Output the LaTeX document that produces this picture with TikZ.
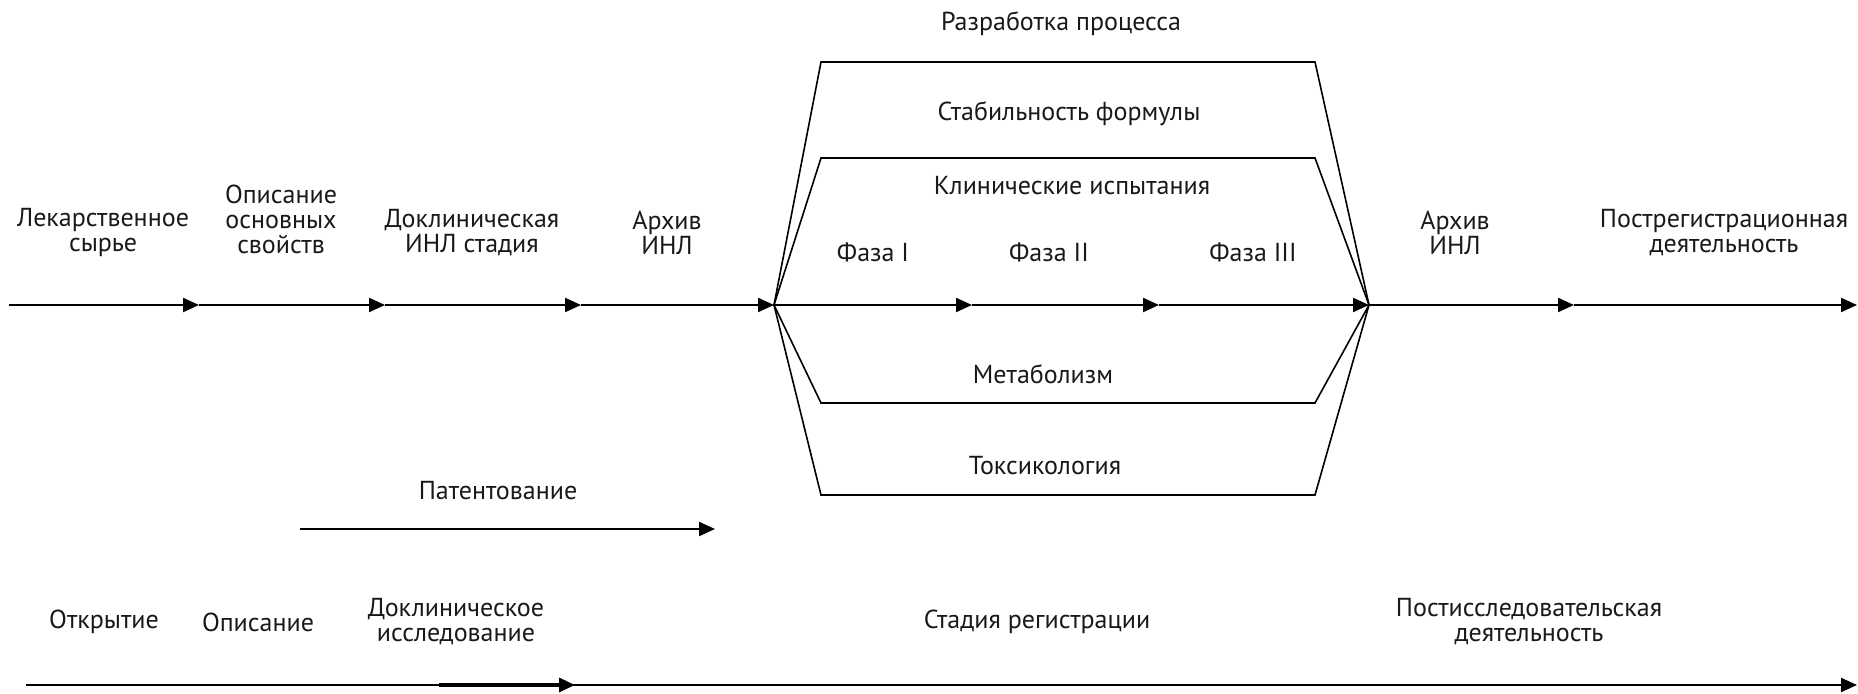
\documentclass[tikz,border=0pt]{standalone}
\usepackage{fontspec}
\setmainfont{PT Sans}
\usetikzlibrary{arrows.meta}
\tikzset{
  lbl/.style={font=\fontsize{13}{12.5}\selectfont, align=center, inner sep=0pt, text=black!90},
  arr/.style={line width=1.1pt, -{Triangle[length=8pt,width=7pt]}},
  trap/.style={line width=0.8pt, line join=miter}
}
\begin{document}
\begin{tikzpicture}[x=0.5pt,y=-0.5pt]
\useasboundingbox (0,0) rectangle (1858,694);
% main line coordinates
\coordinate (p0) at (9,305);
\coordinate (p1) at (199,305);
\coordinate (p2) at (385,305);
\coordinate (p3) at (581,305);
\coordinate (L) at (774,305);
\coordinate (q1) at (972,305);
\coordinate (q2) at (1159,305);
\coordinate (R) at (1369,305);
\coordinate (r1) at (1574,305);
\coordinate (r2) at (1857,305);
\draw[arr] (p0) -- (p1);
\draw[arr] (p1) -- (p2);
\draw[arr] (p2) -- (p3);
\draw[arr] (p3) -- (L);
\draw[arr] (L) -- (q1);
\draw[arr] (q1) -- (q2);
\draw[arr] (q2) -- (R);
\draw[arr] (R) -- (r1);
\draw[arr] (r1) -- (r2);
% trapezoids
\coordinate (o1) at (821,62);
\coordinate (o2) at (1315,62);
\coordinate (o3) at (1315,495);
\coordinate (o4) at (821,495);
\coordinate (i1) at (821,158);
\coordinate (i2) at (1315,158);
\coordinate (i3) at (1315,403);
\coordinate (i4) at (821,403);
\draw[trap] (L) -- (o1) -- (o2) -- (R) -- (o3) -- (o4) -- cycle;
\draw[trap] (L) -- (i1) -- (i2) -- (R) -- (i3) -- (i4) -- cycle;
% top labels
\node[lbl] (lek) at (103,233) {Лекарственное\\сырье};
\node[lbl, anchor=south] (opis) at (281,254) {Описание\\основных\\свойств};
\node[lbl] (dokl) at (472,233) {Доклиническая\\ИНЛ стадия};
\node[lbl] (arch1) at (667,233) {Архив\\ИНЛ};
\node[lbl] (arch2) at (1455,233) {Архив\\ИНЛ};
\node[lbl] (postreg) at (1724,233) {Пострегистрационная\\деятельность};
\node[lbl] (razr) at (1061,24) {Разработка процесса};
\node[lbl] (stab) at (1069,114) {Стабильность формулы};
\node[lbl] (klin) at (1072,186) {Клинические испытания};
\node[lbl] (f1) at (873,252) {Фаза I};
\node[lbl] (f2) at (1049,252) {Фаза II};
\node[lbl] (f3) at (1253,252) {Фаза III};
\node[lbl] (metab) at (1043,374) {Метаболизм};
\node[lbl] (toks) at (1045,466) {Токсикология};
% patent
\node[lbl] (pat) at (498,491) {Патентование};
\coordinate (pa) at (300,529);
\coordinate (pb) at (715,529);
\draw[arr] (pa) -- (pb);
% bottom
\node[lbl] (otkr) at (104,622) {Открытие};
\node[lbl] (opis2) at (258,622) {Описание};
\node[lbl] (dokl2) at (456,622) {Доклиническое\\исследование};
\node[lbl] (stad) at (1037,622) {Стадия регистрации};
\node[lbl] (postis) at (1529,622) {Постисследовательская\\деятельность};
\coordinate (b0) at (26,685);
\coordinate (b1) at (439,685);
\coordinate (b2) at (575,685);
\coordinate (b3) at (1857,685);
\draw[arr] (b0) -- (b3);
\draw[arr, line width=1.6pt] (b1) -- (b2);
\end{tikzpicture}
\end{document}
